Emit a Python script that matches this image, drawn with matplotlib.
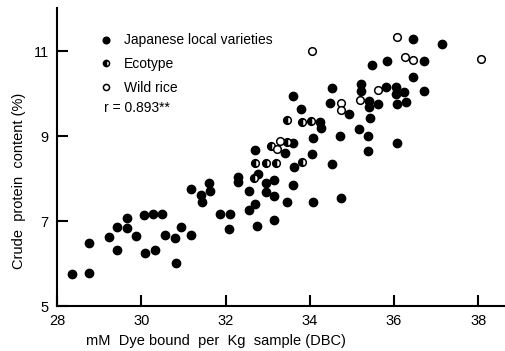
import matplotlib
matplotlib.use("Agg")
import matplotlib.pyplot as plt
import numpy as np

# Japanese local varieties (filled)
jp_x = [28.35, 28.77, 28.77, 29.24, 29.43, 29.43, 29.65, 29.67, 29.88, 30.07,
        30.09, 30.28, 30.33, 30.50, 30.57, 30.80, 30.83, 30.94, 31.18, 31.18,
        31.42, 31.44, 31.60, 31.63, 31.86, 32.10, 32.08, 32.29, 32.29, 32.55,
        32.55, 32.69, 32.71, 32.74, 32.78, 32.95, 32.97, 33.14, 33.16, 33.16,
        33.40, 33.47, 33.61, 33.61, 33.63, 34.08, 34.74, 33.59, 33.80, 34.08,
        34.06, 34.25, 34.27, 34.48, 34.53, 34.53, 34.72, 34.93, 35.17, 35.22,
        35.22, 35.38, 35.38, 35.40, 35.40, 35.43, 35.47, 35.62, 35.81, 35.83,
        36.04, 36.04, 36.06, 36.06, 36.23, 36.28, 36.44, 36.44, 36.70, 36.70,
        37.15]
jp_y = [5.75, 5.78, 6.48, 6.62, 6.86, 6.32, 7.07, 6.84, 6.65, 7.14,
        6.25, 7.16, 6.32, 7.16, 6.67, 6.60, 6.01, 6.86, 6.67, 7.75,
        7.61, 7.45, 7.89, 7.71, 7.16, 7.16, 6.81, 8.04, 7.92, 7.71,
        7.26, 8.67, 7.40, 6.88, 8.11, 7.89, 7.68, 7.96, 7.59, 7.02,
        8.60, 7.45, 8.84, 7.85, 8.27, 7.45, 7.54, 9.94, 9.64, 8.95,
        8.58, 9.33, 9.19, 9.78, 10.13, 8.34, 9.00, 9.52, 9.16, 10.22,
        10.06, 9.00, 8.65, 9.82, 9.68, 9.42, 10.67, 9.75, 10.15, 10.76,
        10.15, 9.99, 9.75, 8.84, 10.04, 9.80, 11.28, 10.39, 10.76, 10.06,
        11.16]

# Ecotype (half filled)
eco_x = [32.67, 32.71, 32.97, 33.19, 33.09, 33.47, 33.45, 33.82, 34.04, 33.82]
eco_y = [8.01, 8.36, 8.36, 8.36, 8.76, 8.86, 9.38, 9.33, 9.35, 8.39]

# Wild rice (open)
wild_x = [33.30, 33.23, 34.06, 34.74, 34.74, 35.19, 35.62, 36.06, 36.25, 36.44, 38.07]
wild_y = [8.88, 8.69, 11.00, 9.78, 9.61, 9.85, 10.08, 11.33, 10.86, 10.79, 10.81]

x_ticks = [28, 30, 32, 34, 36, 38]
y_ticks = [5, 7, 9, 11]

plt.rcParams['font.family'] = ['Liberation Sans', 'DejaVu Sans']

fig = plt.figure(figsize=(5.05, 3.51), dpi=100)
ax = fig.add_axes([0.113, 0.128, 0.885, 0.849])

ax.plot(jp_x, jp_y, 'o', ms=6, color='black', mec='black', linestyle='none',
        label='Japanese local varieties')
ax.plot(eco_x, eco_y, 'o', ms=5.5, color='black', mec='black', mew=1.1,
        fillstyle='left', markerfacecoloralt='white', linestyle='none', label='Ecotype')
ax.plot(wild_x, wild_y, 'o', ms=5.5, mfc='white', mec='black', mew=1.1,
        linestyle='none', label='Wild rice')

ax.set_xlim(28, 38.61)
ax.set_ylim(5, 12.01)
ax.set_xticks(x_ticks)
ax.set_yticks(y_ticks)
ax.tick_params(direction='in', length=8, width=1.5, labelsize=10.5, pad=6)

for s in ['top', 'right']:
    ax.spines[s].set_visible(False)
for s in ['left', 'bottom']:
    ax.spines[s].set_linewidth(1.5)

ax.set_xlabel("mM  Dye bound  per  Kg  sample (DBC)", fontsize=10.5)
ax.xaxis.set_label_coords(0.355, -0.095)
ax.set_ylabel("Crude  protein  content (%)", fontsize=10.5)
ax.yaxis.set_label_coords(-0.07, 0.42)

ax.legend(loc='upper left', bbox_to_anchor=(0.094, 0.915), frameon=False,
          fontsize=10, markerscale=0.8, handlelength=1.0, handletextpad=0.8,
          labelspacing=0.7, borderpad=0, borderaxespad=0)
ax.text(0.105, 0.664, "r = 0.893**", transform=ax.transAxes, fontsize=10,
        va='center', ha='left')

plt.savefig("out.png", dpi=100)
